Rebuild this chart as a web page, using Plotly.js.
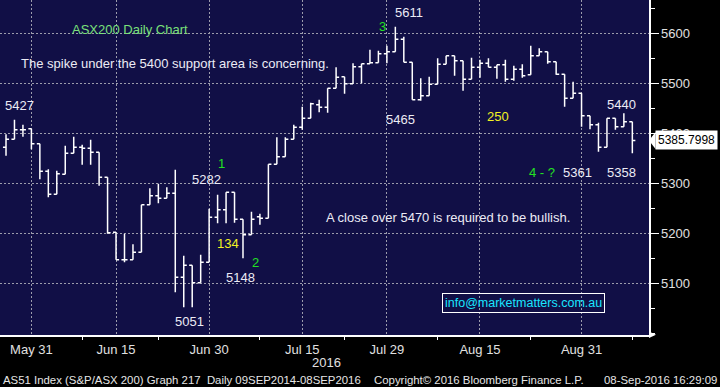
<!DOCTYPE html>
<html><head><meta charset="utf-8">
<script src="https://cdn.plot.ly/plotly-3.0.1.min.js"></script>
<style>html,body{margin:0;padding:0;background:#000;}#chart{width:720px;height:387px;}</style>
</head><body><div id="chart"></div>
<script>
const dates = ['2016-05-26','2016-05-27','2016-05-30','2016-05-31','2016-06-01','2016-06-02','2016-06-03','2016-06-06','2016-06-07','2016-06-08','2016-06-09','2016-06-10','2016-06-14','2016-06-15','2016-06-16','2016-06-17','2016-06-20','2016-06-21','2016-06-22','2016-06-23','2016-06-24','2016-06-27','2016-06-28','2016-06-29','2016-06-30','2016-07-01','2016-07-04','2016-07-05','2016-07-06','2016-07-07','2016-07-08','2016-07-11','2016-07-12','2016-07-13','2016-07-14','2016-07-15','2016-07-18','2016-07-19','2016-07-20','2016-07-21','2016-07-22','2016-07-25','2016-07-26','2016-07-27','2016-07-28','2016-07-29','2016-08-01','2016-08-02','2016-08-03','2016-08-04','2016-08-05','2016-08-08','2016-08-09','2016-08-10','2016-08-11','2016-08-12','2016-08-15','2016-08-16','2016-08-17','2016-08-18','2016-08-19','2016-08-22','2016-08-23','2016-08-24','2016-08-25','2016-08-26','2016-08-29','2016-08-30','2016-08-31','2016-09-01','2016-09-02','2016-09-05','2016-09-06','2016-09-07','2016-09-08'];
const openVals = [5372,5388,5407,5409,5379,5324,5278,5318,5360,5372,
 5370,5362,5312,5202,5147,5147,5162,5257,5275,5270,
 5280,5112,5136,5101,5142,5232,5247,5282,5228,5197,
 5233,5230,5338,5353,5388,5412,5430,5457,5452,5490,
 5513,5499,5533,5539,5541,5559,5563,5588,5542,5467,
 5475,5498,5538,5555,5545,5508,5532,5540,5532,5537,
 5508,5528,5517,5555,5563,5543,5518,5470,5480,5435,
 5417,5372,5430,5413,5423];
const highVals = [5398,5427,5417,5409,5379,5328,5325,5375,5393,5377,
 5387,5362,5312,5202,5199,5178,5257,5290,5299,5292,
 5327,5155,5136,5157,5249,5277,5282,5282,5228,5243,
 5239,5338,5392,5392,5417,5453,5461,5467,5490,5532,
 5513,5540,5539,5567,5565,5575,5613,5593,5542,5510,
 5513,5550,5555,5555,5545,5551,5547,5550,5537,5547,
 5535,5538,5575,5570,5563,5543,5518,5503,5480,5435,
 5421,5430,5430,5440,5423];
const lowVals = [5355,5388,5393,5368,5308,5272,5278,5318,5360,5337,
 5337,5295,5199,5147,5142,5147,5162,5257,5260,5270,
 5082,5052,5052,5101,5142,5220,5220,5221,5150,5197,
 5217,5230,5338,5353,5388,5407,5430,5442,5441,5490,
 5479,5499,5500,5539,5541,5540,5563,5542,5467,5465,
 5475,5498,5538,5515,5485,5508,5511,5532,5509,5503,
 5505,5511,5517,5555,5539,5517,5453,5470,5413,5408,
 5363,5372,5407,5413,5360];
const closeVals = [5388,5407,5407,5379,5324,5278,5319,5360,5372,5370,
 5362,5312,5201,5147,5147,5162,5257,5275,5270,5280,
 5112,5136,5101,5142,5232,5247,5282,5228,5197,5228,
 5230,5338,5353,5388,5412,5430,5459,5452,5490,5512,
 5499,5533,5539,5541,5559,5563,5588,5542,5467,5475,
 5498,5538,5555,5545,5508,5532,5540,5532,5537,5508,
 5528,5515,5555,5563,5543,5518,5470,5480,5435,5417,
 5372,5430,5413,5423,5385.7998];
const tickDates = ['2016-05-31','2016-06-15','2016-06-30','2016-07-15','2016-07-29','2016-08-15','2016-08-31'];
const tickLabels = ['May 31','Jun 15','Jun 30','Jul 15','Jul 29','Aug 15','Aug 31'];
const minorTickDates = ['2016-06-08','2016-06-22','2016-07-08','2016-07-22','2016-08-08','2016-08-23','2016-09-08'];
const yTicks = [5100,5200,5300,5400,5500,5600];
const lastPrice = '5385.7998';

const W = 649, H = 335;
const P = (px, py) => ({x: px / W, y: 1 - py / H});
const FONT = "'Liberation Sans', Arial, sans-serif";
const WHITE = '#ecebf5', GREEN = '#22e022', LGREEN = '#7ae07a', YELLOW = '#f2f222';

function ann(px, py, text, color, opts) {
  const p = P(px, py);
  return Object.assign({xref:'paper', yref:'paper', x:p.x, y:p.y, xanchor:'left', yanchor:'middle',
    text:text, showarrow:false, borderpad:0, font:{family:FONT, size:13, color:color}}, opts || {});
}
const footFont = {family:FONT, size:11.4, color:'#e6e6e6'};

const annotations = [
  ann(71, 29, 'ASX200 Daily Chart', LGREEN),
  ann(20, 64, 'The spike under the 5400 support area is concerning.', WHITE),
  ann(4, 105, '5427', WHITE),
  ann(191, 179, '5282', WHITE),
  ann(217, 163, '1', GREEN),
  ann(216, 243, '134', YELLOW),
  ann(225, 277, '5148', WHITE),
  ann(251, 262, '2', GREEN),
  ann(174, 321, '5051', WHITE),
  ann(378, 26, '3', GREEN),
  ann(394, 13, '5611', WHITE),
  ann(385, 119, '5465', WHITE),
  ann(486, 116, '250', YELLOW),
  ann(528, 172, '4 - ?', GREEN),
  ann(562, 172, '5361', WHITE),
  ann(606, 172, '5358', WHITE),
  ann(606, 104, '5440', WHITE),
  ann(325, 217, 'A close over 5470 is required to be bullish.', WHITE),
  ann(523.5, 302.5, 'info@marketmatters.com.au', '#19e6ff', {xanchor:'center', bordercolor:'#ffffff', borderwidth:1, borderpad:2, font:{family:FONT, size:12.5, color:'#19e6ff'}}),
  ann(655, 140.5, lastPrice, '#000000', {bgcolor:'#ffffff', borderpad:2, font:{family:FONT, size:12, color:'#000'}}),
  ann(326, 362, '2016', '#e0e0e0', {xanchor:'center'}),
  ann(2, 380, 'AS51 Index (S&amp;P/ASX 200) Graph 217  Daily 09SEP2014-08SEP2016', '#e6e6e6', {font:footFont}),
  ann(373, 380, 'Copyright\u00a9 2016 Bloomberg Finance L.P.', '#e6e6e6', {font:footFont}),
  ann(718, 380, '08-Sep-2016 16:29:09', '#e6e6e6', {xanchor:'right', font:footFont})
];

function tri(pts) {
  return 'M' + pts.map(q => { const p = P(q[0], q[1]); return p.x + ',' + p.y; }).join(' L') + ' Z';
}
const shapes = [
  {type:'path', xref:'paper', yref:'paper', path: tri([[649,140.5],[655.5,132],[655.5,149]]), fillcolor:'#ffffff', line:{width:0}},
  {type:'path', xref:'paper', yref:'paper', path: tri([[649,331.5],[649,338],[656,334.8]]), fillcolor:'#ffffff', line:{width:0}}
];

const trace = {
  type:'ohlc', x:dates, open:openVals, high:highVals, low:lowVals, close:closeVals,
  increasing:{line:{color:'#ffffff', width:1.5}}, decreasing:{line:{color:'#ffffff', width:1.5}},
  tickwidth:0.36, hoverinfo:'skip', xaxis:'x', yaxis:'y'
};
const minorIdx = minorTickDates.map(d => dates.indexOf(d));
const helper = {type:'scatter', x:[minorIdx[0]], y:[5000], xaxis:'x2', yaxis:'y', mode:'markers', marker:{opacity:0}, hoverinfo:'skip', showlegend:false};

const xr = [-0.71, 75.97];
const layout = {
  width:720, height:387,
  margin:{l:0, r:71, t:0, b:52, pad:0, autoexpand:false},
  paper_bgcolor:'#000000', plot_bgcolor:'#110f46',
  showlegend:false,
  xaxis:{type:'category', range:xr, tickmode:'array', tickvals:tickDates, ticktext:tickLabels,
    rangeslider:{visible:false}, showgrid:true, gridcolor:'#9c9cac', griddash:'2px,2px', gridwidth:1,
    showline:true, linecolor:'#ffffff', linewidth:1.5, ticks:'outside', ticklen:2, tickcolor:'rgba(0,0,0,0)',
    tickfont:{family:FONT, size:13, color:'#e0e0e0'}, zeroline:false, fixedrange:true},
  xaxis2:{overlaying:'x', anchor:'y', side:'bottom', type:'linear', range:xr, tickmode:'array', tickvals:minorIdx,
    ticks:'outside', ticklen:4, tickcolor:'#ffffff', tickwidth:1, showticklabels:false, showgrid:false, showline:false, zeroline:false},
  yaxis:{side:'right', range:[4996.7, 5666.7], tickmode:'array', tickvals:yTicks, ticktext:yTicks.map(String),
    showgrid:true, gridcolor:'#9c9cac', griddash:'2px,2px', gridwidth:1,
    showline:true, linecolor:'#ffffff', linewidth:1.5, ticks:'outside', ticklen:8, tickcolor:'#ffffff', tickwidth:1.5,
    minor:{dtick:50, tick0:5000, ticks:'outside', ticklen:4, tickcolor:'#ffffff', tickwidth:1, showgrid:false},
    tickfont:{family:FONT, size:13, color:'#e0e0e0'}, zeroline:false, fixedrange:true},
  annotations:annotations,
  shapes:shapes
};
Plotly.newPlot('chart', [trace, helper], layout, {displayModeBar:false, staticPlot:true});
</script></body></html>
